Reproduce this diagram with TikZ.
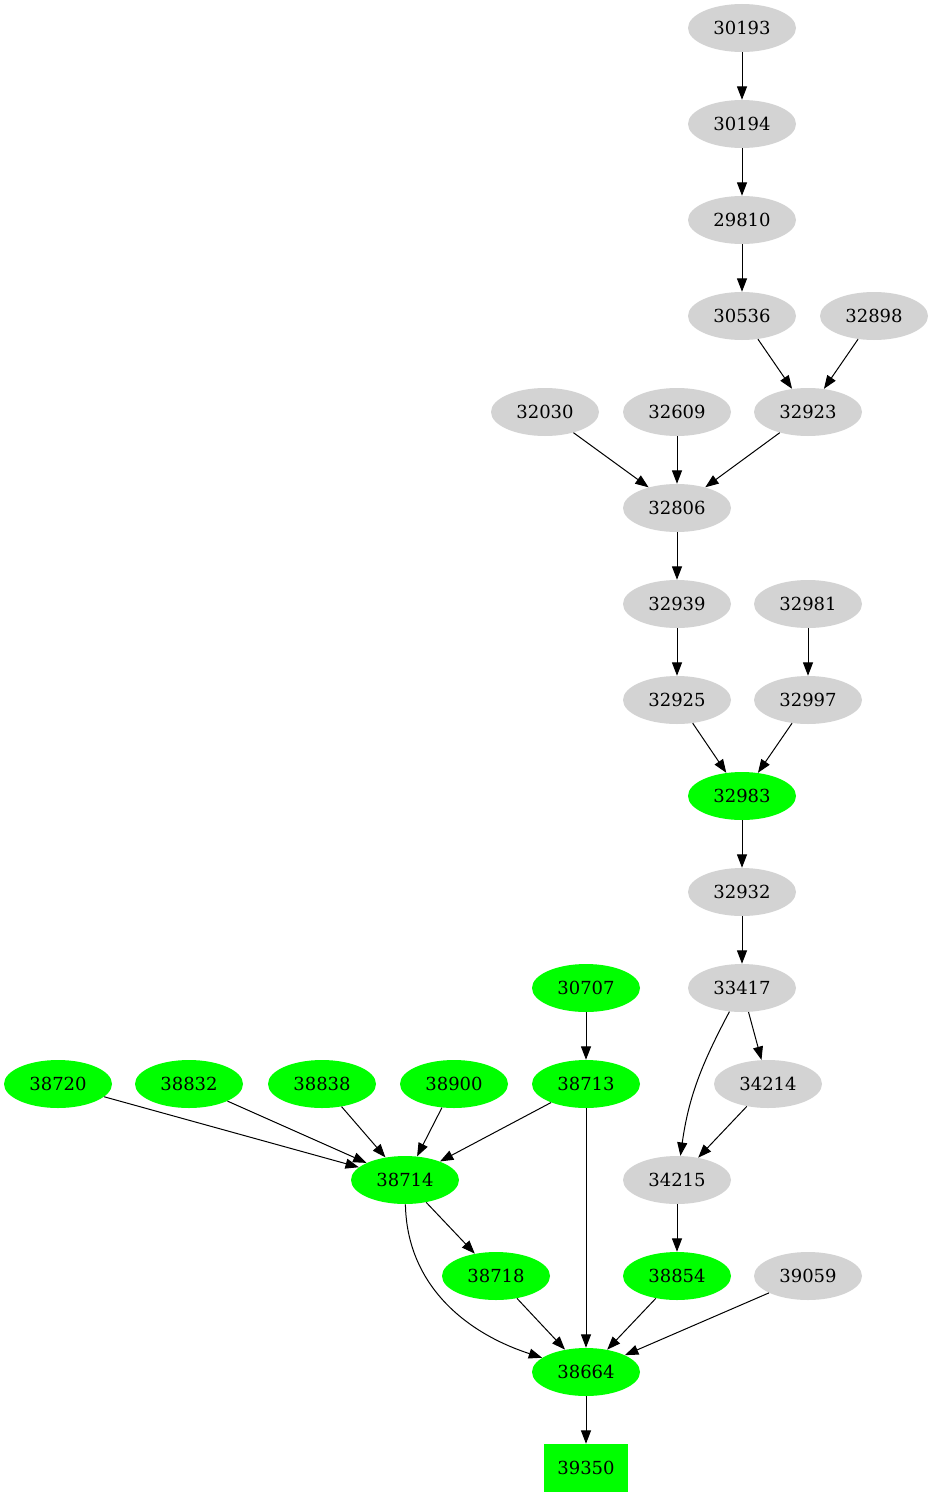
\documentclass[tikz,border=0pt]{standalone}
\usepackage{fontspec}
\setmainfont{DejaVu Serif}
\usetikzlibrary{shapes.geometric,arrows.meta}
\definecolor{gr}{RGB}{211,211,211}
\definecolor{gn}{RGB}{0,255,0}
\begin{document}
\begin{tikzpicture}[x=0.75pt,y=-0.75pt,
  base/.style={ellipse,minimum width=81pt,minimum height=36pt,inner sep=0pt,font=\fontsize{13.5pt}{16pt}\selectfont},
  grey/.style={base,fill=gr},
  green/.style={base,fill=gn},
  gbox/.style={rectangle,fill=gn,minimum width=63pt,minimum height=36pt,inner sep=0pt,font=\fontsize{13.5pt}{16pt}\selectfont},
  edge/.style={draw,line width=0.75pt,-{Triangle[length=10pt,width=7.5pt]}}]
\useasboundingbox (0,-1) rectangle (934,1498);
\node[grey] (n30193) at (742,27) {30193};
\node[grey] (n30194) at (742,123) {30194};
\node[grey] (n29810) at (742,219) {29810};
\node[grey] (n30536) at (742,315) {30536};
\node[grey] (n32898) at (874,315) {32898};
\node[grey] (n32030) at (545,411) {32030};
\node[grey] (n32609) at (677,411) {32609};
\node[grey] (n32923) at (808,411) {32923};
\node[grey] (n32806) at (677,507) {32806};
\node[grey] (n32939) at (677,603) {32939};
\node[grey] (n32981) at (808,603) {32981};
\node[grey] (n32925) at (677,699) {32925};
\node[grey] (n32997) at (808,699) {32997};
\node[green] (n32983) at (742,795) {32983};
\node[grey] (n32932) at (742,891) {32932};
\node[green] (n30707) at (586,987) {30707};
\node[grey] (n33417) at (742,987) {33417};
\node[green] (n38720) at (58,1083) {38720};
\node[green] (n38832) at (189,1083) {38832};
\node[green] (n38838) at (322,1083) {38838};
\node[green] (n38900) at (454,1083) {38900};
\node[green] (n38713) at (586,1083) {38713};
\node[grey] (n34214) at (768,1083) {34214};
\node[green] (n38714) at (405,1179) {38714};
\node[grey] (n34215) at (677,1179) {34215};
\node[green] (n38718) at (496,1275) {38718};
\node[green] (n38854) at (677,1275) {38854};
\node[grey] (n39059) at (808,1275) {39059};
\node[green] (n38664) at (586,1371) {38664};
\node[gbox] (n39350) at (586,1467) {39350};

\draw[edge] (n30193) -- (n30194);
\draw[edge] (n30194) -- (n29810);
\draw[edge] (n29810) -- (n30536);
\draw[edge] (n30536) -- (n32923);
\draw[edge] (n32898) -- (n32923);
\draw[edge] (n32030) -- (n32806);
\draw[edge] (n32609) -- (n32806);
\draw[edge] (n32923) -- (n32806);
\draw[edge] (n32806) -- (n32939);
\draw[edge] (n32939) -- (n32925);
\draw[edge] (n32981) -- (n32997);
\draw[edge] (n32925) -- (n32983);
\draw[edge] (n32997) -- (n32983);
\draw[edge] (n32983) -- (n32932);
\draw[edge] (n32932) -- (n33417);
\draw[edge] (n30707) -- (n38713);
\draw[edge] (n33417) -- (n34214);
\draw[edge] (n33417) to[out=-118,in=82] (n34215);
\draw[edge] (n34214) -- (n34215);
\draw[edge] (n38720) -- (n38714);
\draw[edge] (n38832) -- (n38714);
\draw[edge] (n38838) -- (n38714);
\draw[edge] (n38900) -- (n38714);
\draw[edge] (n38713) -- (n38714);
\draw[edge] (n38713) -- (n38664);
\draw[edge] (n34215) -- (n38854);
\draw[edge] (n38714) -- (n38718);
\draw[edge] (n38714) to[out=-89,in=162] (n38664);
\draw[edge] (n38718) -- (n38664);
\draw[edge] (n38854) -- (n38664);
\draw[edge] (n39059) -- (n38664);
\draw[edge] (n38664) -- (n39350);
\end{tikzpicture}
\end{document}
